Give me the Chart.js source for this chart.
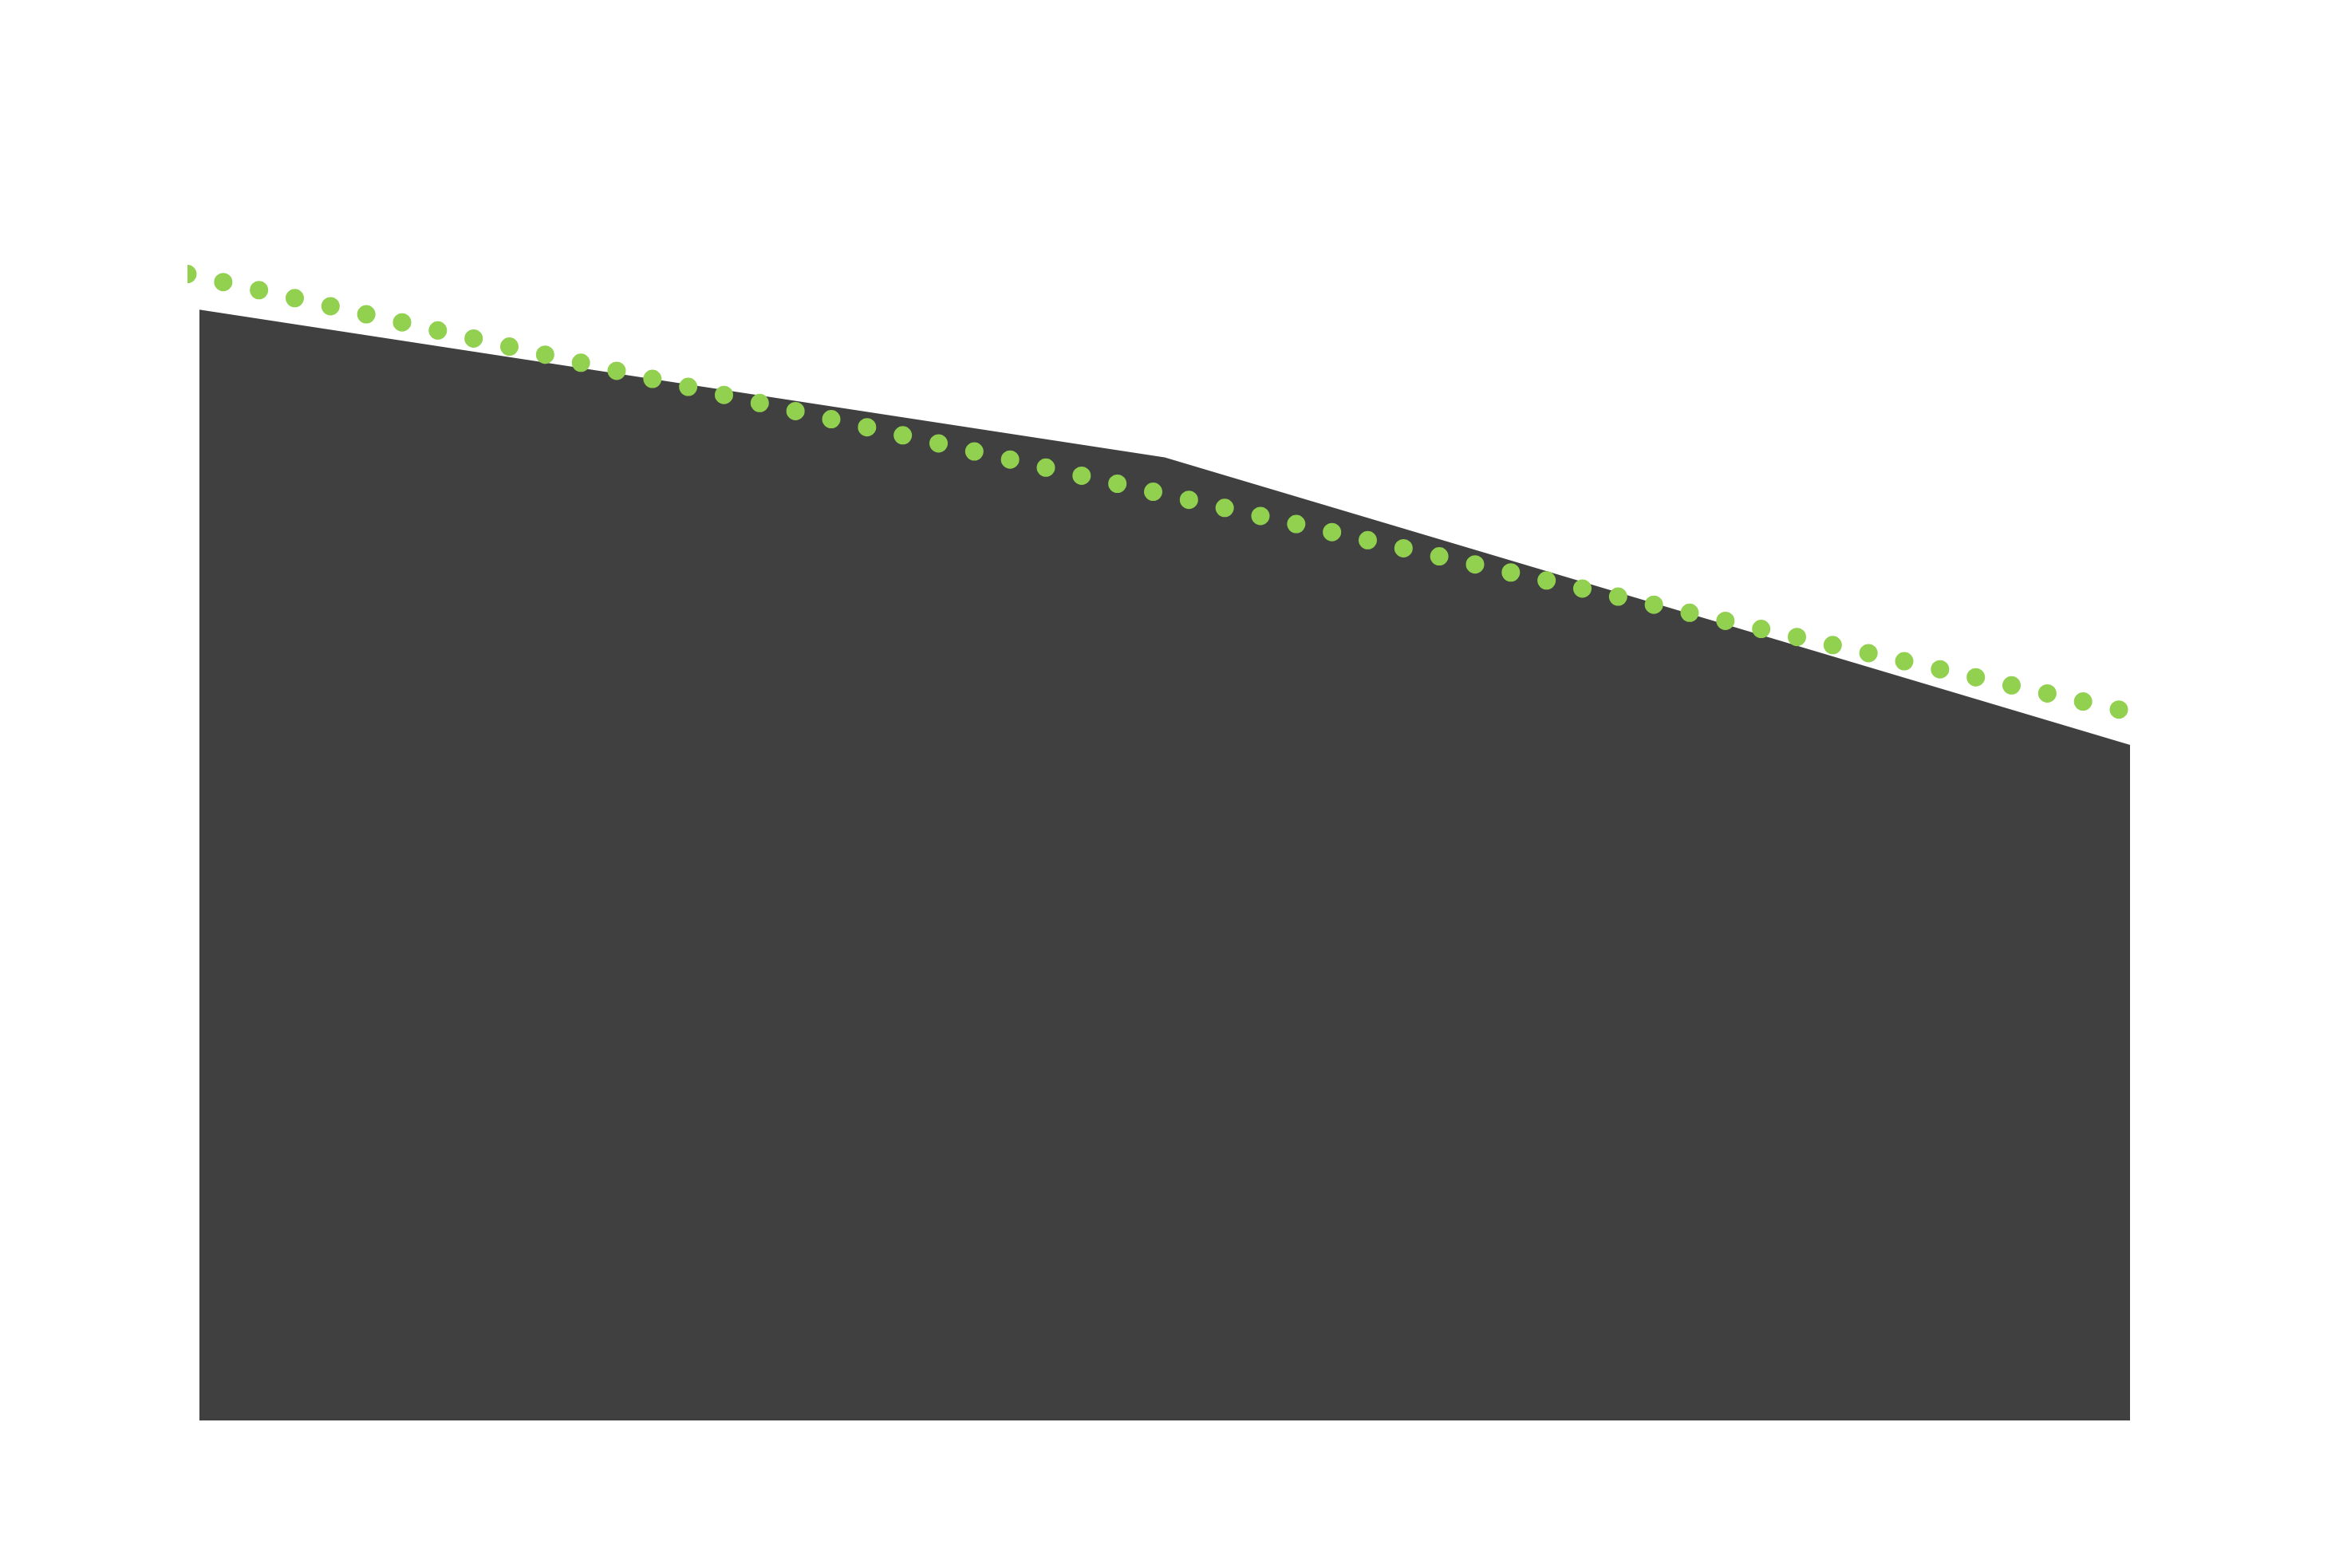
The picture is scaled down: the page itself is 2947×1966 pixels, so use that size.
<!DOCTYPE html>
<html>
<head>
<meta charset="utf-8">
<script src="https://cdn.jsdelivr.net/npm/chart.js@4/dist/chart.umd.min.js"></script>
<style>
  html, body { margin: 0; padding: 0; background: #ffffff; }
  #c { display: block; }
</style>
</head>
<body>
<canvas id="c" width="2947" height="1966"></canvas>
<script>
// Data
const categories = [0, 1, 2];
const areaValues = [115.1, 99.8, 70];
const trendX = [-0.0124, 2];
const trendValues = [118.8, 73.4];

const areaData = categories.map((x, i) => ({ x: x, y: areaValues[i] }));
const trendData = trendX.map((x, i) => ({ x: x, y: trendValues[i] }));

new Chart(document.getElementById('c'), {
  type: 'line',
  data: {
    datasets: [
      {
        label: 'Trend',
        data: trendData,
        borderColor: '#92D050',
        borderWidth: 23,
        borderDash: [0, 45.96],
        borderCapStyle: 'round',
        pointRadius: 0,
        fill: false,
        tension: 0,
        clip: 0,
        order: 0
      },
      {
        label: 'Series',
        data: areaData,
        borderColor: '#404040',
        backgroundColor: '#404040',
        borderWidth: 0,
        pointRadius: 0,
        fill: 'origin',
        tension: 0,
        clip: 0,
        order: 1
      }
    ]
  },
  options: {
    responsive: false,
    animation: false,
    devicePixelRatio: 1,
    layout: { padding: { left: 235, right: 277, top: 208, bottom: 185 } },
    plugins: { legend: { display: false }, tooltip: { enabled: false } },
    scales: {
      x: { type: 'linear', min: -0.0124, max: 2, display: false },
      y: { type: 'linear', min: 0, max: 130, display: false }
    }
  }
});
</script>
</body>
</html>
